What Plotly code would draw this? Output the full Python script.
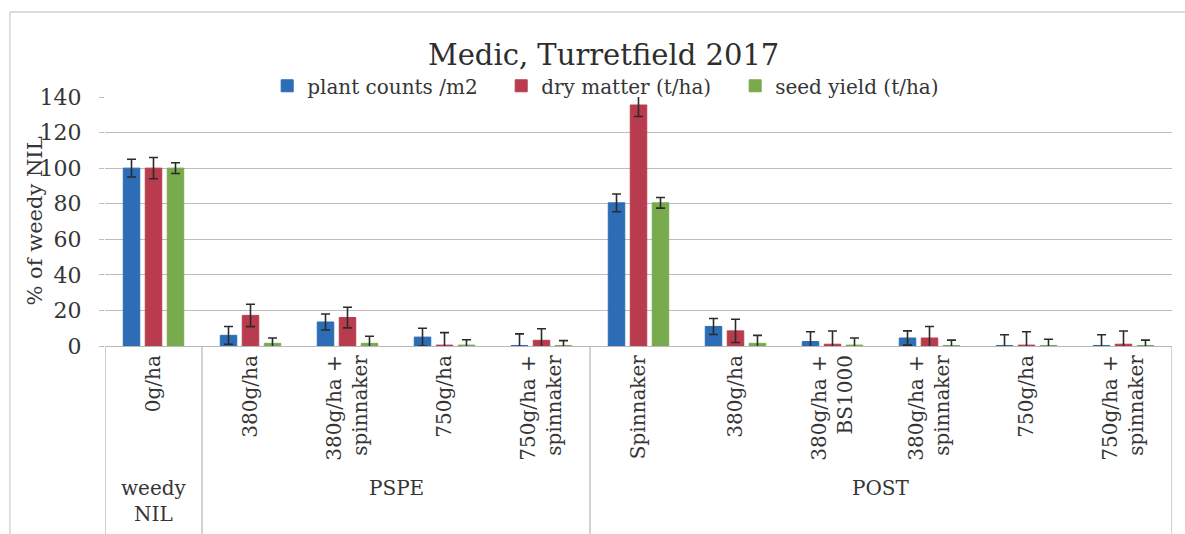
import plotly.graph_objects as go

# Treatments (first-level category labels) and their timing groups
categories = [
    "0g/ha", "380g/ha", "380g/ha +<br>spinnaker", "750g/ha", "750g/ha +<br>spinnaker",
    "Spinnaker", "380g/ha", "380g/ha +<br>BS1000", "380g/ha +<br>spinnaker",
    "750g/ha", "750g/ha +<br>spinnaker",
]
group_labels = ["weedy<br>NIL", "PSPE", "POST"]
group_sizes = [1, 4, 6]

# % of weedy NIL for each measure, with error bar half-widths
plant_counts = [100, 6, 13.5, 5, 0.3, 80.5, 11, 2.5, 4.5, 0.3, 0.3]
plant_err = [5, 5, 4.5, 5, 6.5, 5, 4.5, 5.5, 4, 6, 6]
dry_matter = [100, 17.2, 16, 0.5, 3.2, 135.5, 8.5, 1, 4.5, 0.5, 1]
dry_err = [6, 6.3, 5.8, 7, 6.5, 6.5, 6.5, 7.4, 6.5, 7.5, 7.4]
seed_yield = [100, 1.5, 1.5, 0.5, 0.3, 80.5, 1.5, 0.5, 0.3, 0.3, 0.3]
seed_err = [3, 3, 4, 3, 2.7, 3, 4.5, 4, 3, 3.5, 3]

series = [
    ("plant counts /m2", plant_counts, plant_err, "#2C6DB5"),
    ("dry matter (t/ha)", dry_matter, dry_err, "#B83C4E"),
    ("seed yield (t/ha)", seed_yield, seed_err, "#7AAA4E"),
]

FONT = "DejaVu Serif"
TEXT = "#353535"
GRID = "#bdbdbd"

x_idx = list(range(len(categories)))

fig = go.Figure()
for name, vals, errs, color in series:
    fig.add_trace(go.Bar(
        name=name, x=x_idx, y=vals,
        marker=dict(color=color, line=dict(color=color, width=1)),
        error_y=dict(type="data", array=errs, visible=True,
                     color="#2b2b2b", thickness=1.6, width=4.5),
    ))

# Group boundaries (dividers of the two-level category axis) and group centres
bounds = [-0.5]
for n in group_sizes:
    bounds.append(bounds[-1] + n)
centres = [(bounds[i] + bounds[i + 1]) / 2 for i in range(len(group_sizes))]

shapes = []
for b in bounds:
    shapes.append(dict(type="line", xref="x", yref="paper", x0=b, x1=b,
                       y0=0, y1=-0.9, line=dict(color="#b8b8b8", width=1.3)))
# Chart frame (left and top edges)
shapes.append(dict(type="line", xref="paper", yref="paper", x0=-0.0891, x1=-0.0891,
                   y0=-0.9, y1=1.3414, line=dict(color="#cfcfcf", width=1.3)))
shapes.append(dict(type="line", xref="paper", yref="paper", x0=-0.0891, x1=1.03,
                   y0=1.3414, y1=1.3414, line=dict(color="#cfcfcf", width=1.3)))

annotations = []
for lbl, cx in zip(group_labels, centres):
    annotations.append(dict(text=lbl, xref="x", yref="paper", x=cx, y=-0.515,
                            xanchor="center", yanchor="top", showarrow=False,
                            font=dict(family=FONT, size=20, color=TEXT)))
annotations.append(dict(text="Medic, Turretfield 2017", xref="paper", yref="paper",
                        x=0.467, y=1.17, xanchor="center", yanchor="middle",
                        showarrow=False,
                        font=dict(family=FONT, size=29, color="#2e2e2e")))
# Value-axis title
annotations.append(dict(text="% of weedy NIL", xref="paper", yref="paper",
                        x=-0.0665, y=0.5, xanchor="center", yanchor="middle",
                        textangle=-90, showarrow=False,
                        font=dict(family=FONT, size=21, color=TEXT)))

fig.update_layout(
    width=1185, height=534,
    margin=dict(l=105, r=13, t=97, b=188),
    paper_bgcolor="white", plot_bgcolor="white",
    font=dict(family=FONT, size=20, color=TEXT),
    barmode="group", bargap=0.32, bargroupgap=0.25,
    showlegend=True,
    legend=dict(orientation="h", x=0.152, y=1.045, xanchor="left", yanchor="middle",
                entrywidth=189, entrywidthmode="pixels",
                font=dict(family=FONT, size=20, color=TEXT),
                bgcolor="rgba(0,0,0,0)", itemwidth=30, tracegroupgap=0),
    xaxis=dict(range=[-0.5, 10.5], tickmode="array", tickvals=x_idx, ticktext=categories,
               tickangle=-90, showgrid=False, showline=True, linecolor="#b8b8b8",
               linewidth=1.3, ticks="", zeroline=False,
               tickfont=dict(family=FONT, size=20, color=TEXT)),
    yaxis=dict(range=[0, 140], dtick=20, showgrid=True, gridcolor=GRID, gridwidth=1.3,
               zeroline=False, showline=False, ticks="outside", ticklen=5,
               tickcolor=GRID, tickwidth=1.3, ticklabelstandoff=13,
               tickfont=dict(family=FONT, size=22, color=TEXT)),
    shapes=shapes, annotations=annotations,
)

fig.write_html("out.html")
